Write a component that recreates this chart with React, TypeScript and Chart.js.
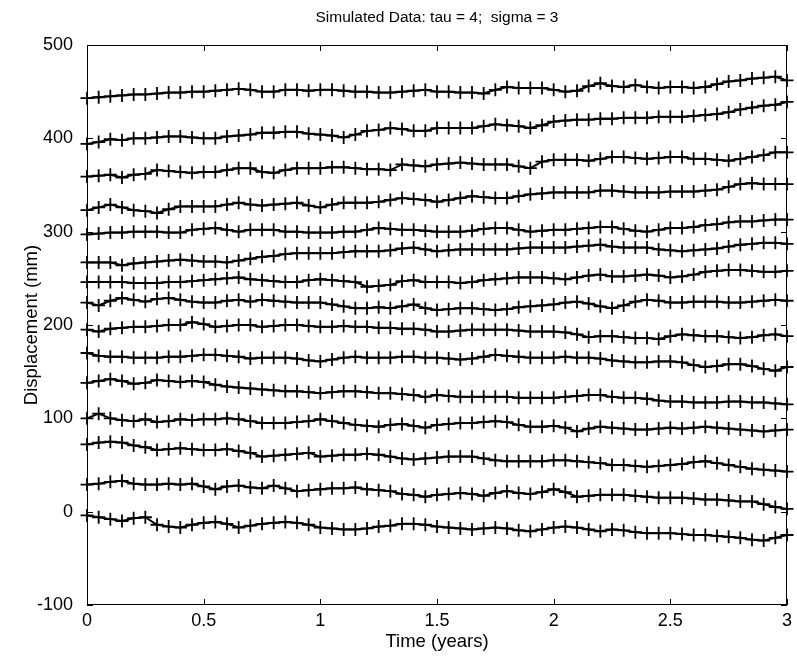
import React, { useEffect, useRef } from "react";
import { Chart, registerables } from "chart.js";

Chart.register(...registerables);

const TIME = [0, 0.05, 0.1, 0.15, 0.2, 0.25, 0.3, 0.35, 0.4, 0.45, 0.5, 0.55, 0.6, 0.65, 0.7, 0.75, 0.8, 0.85, 0.9, 0.95, 1, 1.05, 1.1, 1.15, 1.2, 1.25, 1.3, 1.35, 1.4, 1.45, 1.5, 1.55, 1.6, 1.65, 1.7, 1.75, 1.8, 1.85, 1.9, 1.95, 2, 2.05, 2.1, 2.15, 2.2, 2.25, 2.3, 2.35, 2.4, 2.45, 2.5, 2.55, 2.6, 2.65, 2.7, 2.75, 2.8, 2.85, 2.9, 2.95, 3];

const S1 = [443, 444, 445, 446, 447, 447, 448, 449, 449, 450, 450, 451, 452, 453, 452, 450, 450, 452, 452, 451, 452, 452, 451, 450, 450, 449, 449, 450, 451, 452, 450, 450, 449, 449, 448, 452, 455, 454, 454, 454, 452, 450, 451, 456, 459, 456, 455, 457, 455, 454, 455, 455, 454, 455, 458, 461, 462, 464, 465, 466, 462];
const S2 = [394, 396, 399, 398, 400, 400, 401, 402, 402, 401, 400, 400, 402, 403, 404, 406, 406, 407, 407, 405, 404, 403, 401, 404, 408, 409, 411, 410, 408, 408, 411, 411, 411, 411, 413, 415, 414, 413, 411, 414, 418, 419, 420, 420, 421, 421, 422, 422, 422, 423, 423, 423, 424, 425, 426, 428, 431, 433, 435, 436, 439];
const S3 = [359, 360, 361, 358, 361, 362, 366, 365, 364, 363, 364, 364, 366, 368, 368, 364, 363, 366, 368, 368, 368, 369, 369, 368, 367, 367, 366, 372, 371, 370, 372, 373, 374, 373, 372, 372, 372, 370, 368, 375, 377, 377, 377, 376, 378, 380, 380, 379, 378, 379, 380, 380, 378, 378, 377, 376, 378, 380, 382, 385, 385];
const S4 = [323, 326, 329, 326, 323, 322, 320, 324, 327, 327, 327, 327, 329, 331, 329, 328, 329, 330, 331, 328, 326, 329, 331, 331, 331, 332, 334, 336, 335, 334, 332, 334, 336, 338, 337, 336, 336, 338, 340, 341, 342, 342, 342, 342, 344, 344, 343, 342, 342, 342, 343, 343, 343, 344, 345, 348, 351, 352, 351, 351, 351];
const S5 = [297, 298, 299, 299, 300, 300, 300, 299, 299, 302, 303, 304, 302, 300, 302, 302, 302, 300, 300, 299, 299, 299, 300, 300, 302, 304, 303, 302, 302, 301, 300, 300, 300, 301, 303, 304, 304, 302, 300, 301, 302, 302, 303, 304, 305, 305, 303, 301, 300, 302, 304, 304, 305, 307, 308, 310, 311, 311, 312, 313, 313];
const S6 = [267, 267, 267, 264, 266, 267, 268, 269, 270, 269, 268, 268, 267, 269, 271, 273, 274, 276, 277, 277, 277, 277, 278, 279, 279, 279, 280, 282, 283, 281, 279, 280, 281, 281, 281, 281, 281, 282, 283, 283, 283, 283, 284, 285, 286, 284, 283, 283, 283, 281, 280, 279, 280, 281, 282, 284, 286, 287, 288, 288, 287];
const S7 = [246, 246, 246, 246, 245, 245, 245, 246, 246, 247, 248, 249, 250, 251, 249, 248, 247, 246, 246, 248, 249, 248, 247, 246, 241, 242, 243, 247, 248, 246, 246, 246, 245, 246, 248, 249, 250, 251, 251, 251, 250, 249, 251, 253, 254, 252, 252, 253, 254, 253, 251, 252, 254, 257, 258, 259, 259, 258, 257, 257, 258];
const S8 = [224, 221, 226, 229, 227, 225, 228, 229, 227, 225, 224, 224, 226, 227, 225, 227, 226, 225, 224, 224, 224, 222, 220, 218, 218, 219, 218, 220, 222, 218, 216, 217, 218, 218, 217, 216, 217, 219, 220, 221, 222, 224, 225, 223, 220, 218, 221, 225, 227, 226, 224, 224, 225, 225, 225, 224, 224, 225, 226, 227, 226];
const S9 = [195, 193, 196, 197, 198, 198, 199, 200, 200, 203, 201, 198, 199, 200, 200, 198, 199, 200, 200, 199, 198, 198, 199, 198, 198, 197, 197, 196, 196, 195, 193, 193, 194, 195, 195, 195, 195, 194, 193, 193, 193, 192, 190, 187, 188, 188, 187, 186, 186, 185, 188, 190, 189, 188, 188, 187, 186, 187, 189, 190, 188];
const S10 = [170, 167, 166, 166, 165, 165, 165, 166, 166, 167, 168, 168, 167, 166, 164, 165, 165, 165, 164, 162, 161, 163, 165, 166, 165, 165, 165, 166, 166, 165, 165, 164, 163, 164, 166, 168, 167, 166, 165, 165, 165, 166, 165, 165, 164, 162, 161, 160, 160, 161, 161, 160, 157, 155, 156, 158, 158, 156, 153, 151, 155];
const S11 = [138, 140, 142, 140, 137, 138, 141, 140, 139, 140, 139, 136, 134, 133, 132, 131, 130, 129, 129, 128, 127, 128, 129, 129, 128, 127, 127, 126, 125, 123, 125, 124, 123, 123, 123, 123, 123, 122, 122, 122, 122, 123, 124, 125, 125, 123, 122, 122, 121, 119, 118, 118, 117, 117, 117, 118, 118, 117, 117, 116, 115];
const S12 = [100, 105, 100, 98, 97, 99, 96, 97, 99, 98, 99, 99, 100, 99, 97, 95, 95, 95, 96, 97, 99, 97, 95, 93, 92, 91, 93, 94, 92, 90, 93, 94, 95, 95, 96, 97, 96, 93, 91, 91, 92, 90, 86, 89, 91, 90, 89, 88, 88, 89, 90, 89, 90, 91, 90, 89, 88, 87, 86, 87, 88];
const S13 = [72, 74, 75, 74, 71, 69, 66, 67, 68, 67, 66, 66, 67, 65, 63, 59, 60, 61, 62, 63, 59, 60, 61, 61, 62, 61, 59, 57, 56, 57, 58, 59, 59, 59, 57, 55, 54, 54, 54, 54, 55, 55, 54, 53, 52, 50, 50, 49, 48, 49, 50, 51, 53, 54, 52, 50, 48, 46, 45, 44, 43];
const S14 = [29, 30, 32, 33, 30, 29, 29, 30, 29, 30, 27, 24, 27, 28, 26, 25, 28, 25, 22, 23, 24, 25, 25, 26, 24, 23, 22, 19, 18, 16, 18, 19, 20, 19, 17, 20, 22, 20, 19, 21, 24, 21, 16, 17, 18, 18, 18, 17, 16, 15, 15, 15, 14, 13, 13, 12, 11, 11, 8, 5, 3];
const S15 = [-4, -6, -8, -10, -7, -6, -14, -16, -17, -14, -12, -11, -13, -17, -15, -13, -12, -11, -12, -14, -17, -18, -19, -19, -18, -16, -15, -13, -13, -14, -16, -17, -18, -19, -18, -17, -18, -20, -21, -19, -17, -16, -17, -19, -21, -19, -20, -22, -23, -23, -23, -24, -25, -25, -26, -27, -28, -30, -31, -28, -25];

const SERIES = [S1, S2, S3, S4, S5, S6, S7, S8, S9, S10, S11, S12, S13, S14, S15];

const X_TICKS = [0, 0.5, 1, 1.5, 2, 2.5, 3];
const Y_TICKS = [-100, 0, 100, 200, 300, 400, 500];

const TITLE = "Simulated Data: tau = 4;  sigma = 3";
const X_TITLE = "Time (years)";
const Y_TITLE = "Displacement (mm)";

const FONT = "'Liberation Sans', Arial, Helvetica, sans-serif";

export default function App() {
  const ref = useRef<HTMLCanvasElement>(null);

  useEffect(() => {
    document.body.style.margin = "0";
    const canvas = ref.current;
    if (!canvas) return;

    const framePlugin = {
      id: "matlabFrame",
      afterDraw(chart: any) {
        const { ctx, chartArea: a, scales } = chart;
        const xs = scales.x;
        const ys = scales.y;
        ctx.save();
        ctx.strokeStyle = "#000";
        ctx.lineWidth = 1;
        ctx.strokeRect(a.left + 0.5, a.top + 0.5, a.right - a.left - 1, a.bottom - a.top - 1);
        const len = 6;
        ctx.beginPath();
        for (const v of X_TICKS) {
          const px = Math.round(xs.getPixelForValue(v)) + 0.5;
          ctx.moveTo(px, a.bottom);
          ctx.lineTo(px, a.bottom - len);
          ctx.moveTo(px, a.top);
          ctx.lineTo(px, a.top + len);
        }
        for (const v of Y_TICKS) {
          const py = Math.round(ys.getPixelForValue(v)) + 0.5;
          ctx.moveTo(a.left, py);
          ctx.lineTo(a.left + len, py);
          ctx.moveTo(a.right, py);
          ctx.lineTo(a.right - len, py);
        }
        ctx.stroke();

        ctx.fillStyle = "#000";
        ctx.textAlign = "center";
        ctx.textBaseline = "middle";
        ctx.font = `15.5px ${FONT}`;
        ctx.fillText(TITLE, (a.left + a.right) / 2, 18);
        ctx.font = `18.5px ${FONT}`;
        ctx.fillText(X_TITLE, (a.left + a.right) / 2, 642);
        ctx.save();
        ctx.translate(32, (a.top + a.bottom) / 2);
        ctx.rotate(-Math.PI / 2);
        ctx.fillText(Y_TITLE, 0, 0);
        ctx.restore();
        ctx.restore();
      },
    };

    const datasets = SERIES.map((s, i) => ({
      label: `Series ${i + 1}`,
      data: TIME.map((t, j) => ({ x: t, y: s[j] })),
      borderColor: "#000",
      backgroundColor: "#000",
      borderWidth: 2,
      pointStyle: "cross",
      pointRadius: 6.5,
      pointBorderWidth: 1.8,
      pointBorderColor: "#000",
      pointHoverRadius: 6.5,
      showLine: true,
      tension: 0,
      clip: false,
    }));

    const chart = new Chart(canvas, {
      type: "line",
      data: { datasets },
      options: {
        responsive: false,
        animation: false,
        devicePixelRatio: 1,
        layout: { padding: { top: 45, right: 5, left: 0, bottom: 0 } },
        plugins: {
          legend: { display: false },
          title: { display: false },
          tooltip: { enabled: false },
        },
        scales: {
          x: {
            type: "linear",
            min: 0,
            max: 3,
            grid: { display: false, drawTicks: false },
            border: { display: false },
            afterBuildTicks: (scale: any) => {
              scale.ticks = X_TICKS.map((v) => ({ value: v }));
            },
            afterFit: (scale: any) => {
              scale.height = 51;
            },
            ticks: {
              color: "#000",
              padding: 5,
              maxRotation: 0,
              autoSkip: false,
              font: { family: FONT, size: 18 },
              callback: (v: any) => String(v),
            },
          },
          y: {
            type: "linear",
            min: -100,
            max: 500,
            grid: { display: false, drawTicks: false },
            border: { display: false },
            afterBuildTicks: (scale: any) => {
              scale.ticks = Y_TICKS.map((v) => ({ value: v }));
            },
            afterFit: (scale: any) => {
              scale.width = 87;
            },
            ticks: {
              color: "#000",
              padding: 14,
              autoSkip: false,
              font: { family: FONT, size: 18 },
              callback: (v: any) => String(v),
            },
          },
        },
      },
      plugins: [framePlugin],
    } as any);

    return () => chart.destroy();
  }, []);

  return (
    <canvas
      ref={ref}
      width={797}
      height={656}
      style={{ display: "block", width: 797, height: 656 }}
    />
  );
}
